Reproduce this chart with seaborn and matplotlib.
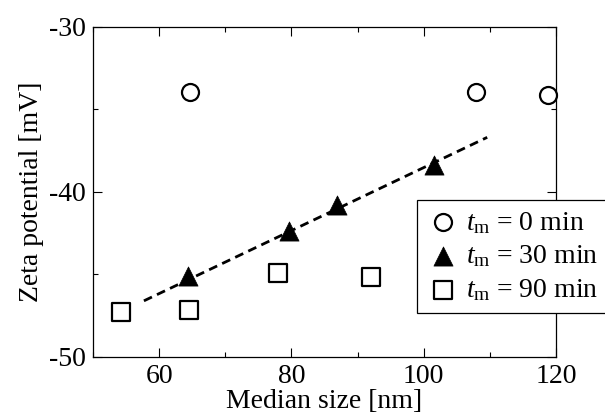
import numpy as np
import pandas as pd
import matplotlib
matplotlib.use("Agg")
import matplotlib.pyplot as plt
import seaborn as sns
from matplotlib.ticker import MultipleLocator

# data
size_0 = [64.7, 107.9, 118.8]
zeta_0 = [-33.95, -33.95, -34.15]
size_30 = [64.4, 79.6, 86.9, 101.6]
zeta_30 = [-45.1, -42.4, -40.8, -38.35]
size_90 = [54.2, 64.5, 78.0, 92.0]
zeta_90 = [-47.25, -47.15, -44.9, -45.15]
fit_x = [57.7, 109.6]
fit_y = [-46.6, -36.7]
labels = [r"$t_\mathrm{m}$ = 0 min", r"$t_\mathrm{m}$ = 30 min", r"$t_\mathrm{m}$ = 90 min"]

sns.set_style("ticks")
plt.rcParams["font.family"] = ["Liberation Serif", "DejaVu Serif"]
plt.rcParams["mathtext.fontset"] = "custom"
plt.rcParams["mathtext.rm"] = "Liberation Serif"
plt.rcParams["mathtext.it"] = "Liberation Serif:italic"
plt.rcParams["axes.unicode_minus"] = False
for k in ["text.color", "axes.labelcolor", "xtick.color", "ytick.color", "axes.edgecolor"]:
    plt.rcParams[k] = "black"

fig = plt.figure(figsize=(6.05, 4.17), dpi=100)
ax = fig.add_axes([0.1537, 0.1439, 0.919 - 0.1537, 0.936 - 0.1439])

df0 = pd.DataFrame({"x": size_0, "y": zeta_0})
df30 = pd.DataFrame({"x": size_30, "y": zeta_30})
df90 = pd.DataFrame({"x": size_90, "y": zeta_90})
dfit = pd.DataFrame({"x": fit_x, "y": fit_y})

sns.lineplot(data=dfit, x="x", y="y", ax=ax, color="black", lw=2.0,
             dashes=False, zorder=2)
ax.lines[-1].set_dashes([3.2, 2.0])
sns.scatterplot(data=df0, x="x", y="y", ax=ax, marker="o", s=150,
                facecolor="white", edgecolor="black", linewidth=1.6,
                label=labels[0], clip_on=False, zorder=3)
sns.scatterplot(data=df30, x="x", y="y", ax=ax, marker="^", s=190,
                color="black", edgecolor="black", linewidth=0.5,
                label=labels[1], zorder=3)
sns.scatterplot(data=df90, x="x", y="y", ax=ax, marker="s", s=150,
                facecolor="white", edgecolor="black", linewidth=1.6,
                label=labels[2], zorder=3)

ax.set_xlim(50, 120)
ax.set_ylim(-50, -30)
ax.xaxis.set_major_locator(MultipleLocator(20))
ax.xaxis.set_minor_locator(MultipleLocator(10))
ax.yaxis.set_major_locator(MultipleLocator(10))
ax.yaxis.set_minor_locator(MultipleLocator(5))
ax.tick_params(which="both", direction="in", top=True, right=True,
               labelsize=20, width=0.8, pad=5, colors="black")
ax.tick_params(which="major", length=6.5)
ax.tick_params(which="minor", length=3.5)
for sp in ax.spines.values():
    sp.set_linewidth(0.9)
    sp.set_color("black")

ax.set_xlabel("Median size [nm]", fontsize=20, labelpad=0)
ax.set_ylabel("Zeta potential [mV]", fontsize=20, labelpad=4)

leg = ax.legend(loc="upper left", bbox_to_anchor=(417 / 605, 1 - 200 / 417),
                bbox_transform=fig.transFigure, borderaxespad=0, fontsize=20,
                frameon=True, fancybox=False, edgecolor="black",
                handletextpad=0.2, handlelength=1.2, labelspacing=0.28,
                borderpad=0.35)
leg.get_frame().set_linewidth(0.9)
leg.get_frame().set_alpha(1)

fig.savefig("out.png", dpi=100)
